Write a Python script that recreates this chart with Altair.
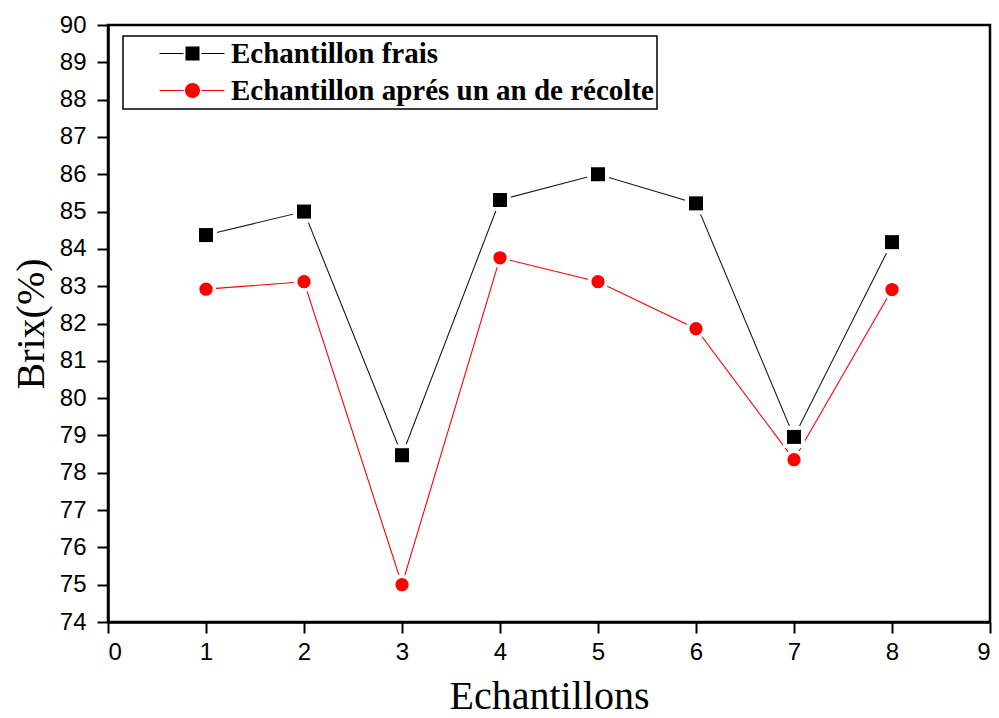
import altair as alt
import pandas as pd

echantillons = [1, 2, 3, 4, 5, 6, 7, 8]
frais = [84.37, 85.0, 78.47, 85.31, 86.0, 85.22, 78.96, 84.18]
apres = [82.92, 83.12, 75.0, 83.76, 83.12, 81.86, 78.35, 82.91]
series = ["Echantillon frais", "Echantillon aprés un an de récolte"]
colors = ["#000000", "#ff0000"]

df = pd.DataFrame({
    "x": echantillons * 2,
    "v": frais + apres,
    "serie": [series[0]] * len(frais) + [series[1]] * len(apres),
})

# legend symbols: line with gap + marker (unit = 10 px)
sq_path = ("M1.9,-0.05H4.3V0.05H1.9Z M6.1,-0.05H8.4V0.05H6.1Z "
           "M4.5,-0.7H5.9V0.7H4.5Z")
ci_path = ("M1.9,-0.05H4.3V0.05H1.9Z M6.1,-0.05H8.4V0.05H6.1Z "
           "M5.95,0A0.75,0.75 0 1,1 4.45,0A0.75,0.75 0 1,1 5.95,0Z")

xenc = alt.X("x:Q", scale=alt.Scale(domain=[0, 9], nice=False),
             axis=alt.Axis(values=list(range(0, 10)), title="Echantillons",
                           titlePadding=12))
yenc = alt.Y("v:Q", scale=alt.Scale(domain=[74, 90], nice=False, zero=False),
             axis=alt.Axis(values=list(range(74, 91)), title="Brix(%)",
                           titlePadding=8))

base = alt.Chart(df).encode(x=xenc, y=yenc)
f = base.transform_filter(alt.datum.serie == series[0])
a = base.transform_filter(alt.datum.serie == series[1])

line_f = f.mark_line(color="#1a1a1a", strokeWidth=1.1)
line_a = a.mark_line(color=colors[1], strokeWidth=1.1)
halo_f = f.mark_point(filled=True, shape="square", color="white", opacity=1, size=484)
halo_a = a.mark_point(filled=True, shape="circle", color="white", opacity=1, size=415)
pt_f = f.mark_point(filled=True, shape="square", color=colors[0], opacity=1, size=196)
pt_a = a.mark_point(filled=True, shape="circle", color=colors[1], opacity=1, size=177)

leg = alt.Chart(df).transform_filter("false").mark_point(filled=True, opacity=1).encode(
    color=alt.Color("serie:N", scale=alt.Scale(domain=series, range=colors),
                    legend=alt.Legend(title=None)),
    shape=alt.Shape("serie:N", scale=alt.Scale(domain=series, range=[sq_path, ci_path]),
                    legend=alt.Legend(title=None)),
)

chart = alt.layer(line_f, line_a, halo_f, halo_a, pt_f, pt_a, leg).properties(
    width=882, height=597,
    autosize=alt.AutoSizeParams(type="none"),
    padding={"left": 108, "top": 25, "right": 9, "bottom": 96},
).configure_view(
    stroke="black", strokeWidth=2.5
).configure_axis(
    grid=False,
    domainColor="black", domainWidth=2.5,
    tickColor="black", tickWidth=2, tickSize=11,
    labelFont="Liberation Sans", labelFontSize=24, labelColor="black",
    labelPadding=7,
    titleFont="Liberation Serif", titleFontWeight="normal", titleFontSize=40,
    titleColor="black",
).configure_axisY(
    labelPadding=11,
).configure_legend(
    orient="none", legendX=15, legendY=11,
    strokeColor="black", strokeWidth=1.5, fillColor="white",
    padding=3, rowPadding=7,
    symbolSize=400, labelOffset=76,
    labelFont="Liberation Serif", labelFontWeight="bold", labelFontSize=29,
    labelColor="black", labelLimit=0,
)

chart.save("out.html", embed_options={"renderer": "svg", "actions": False})
